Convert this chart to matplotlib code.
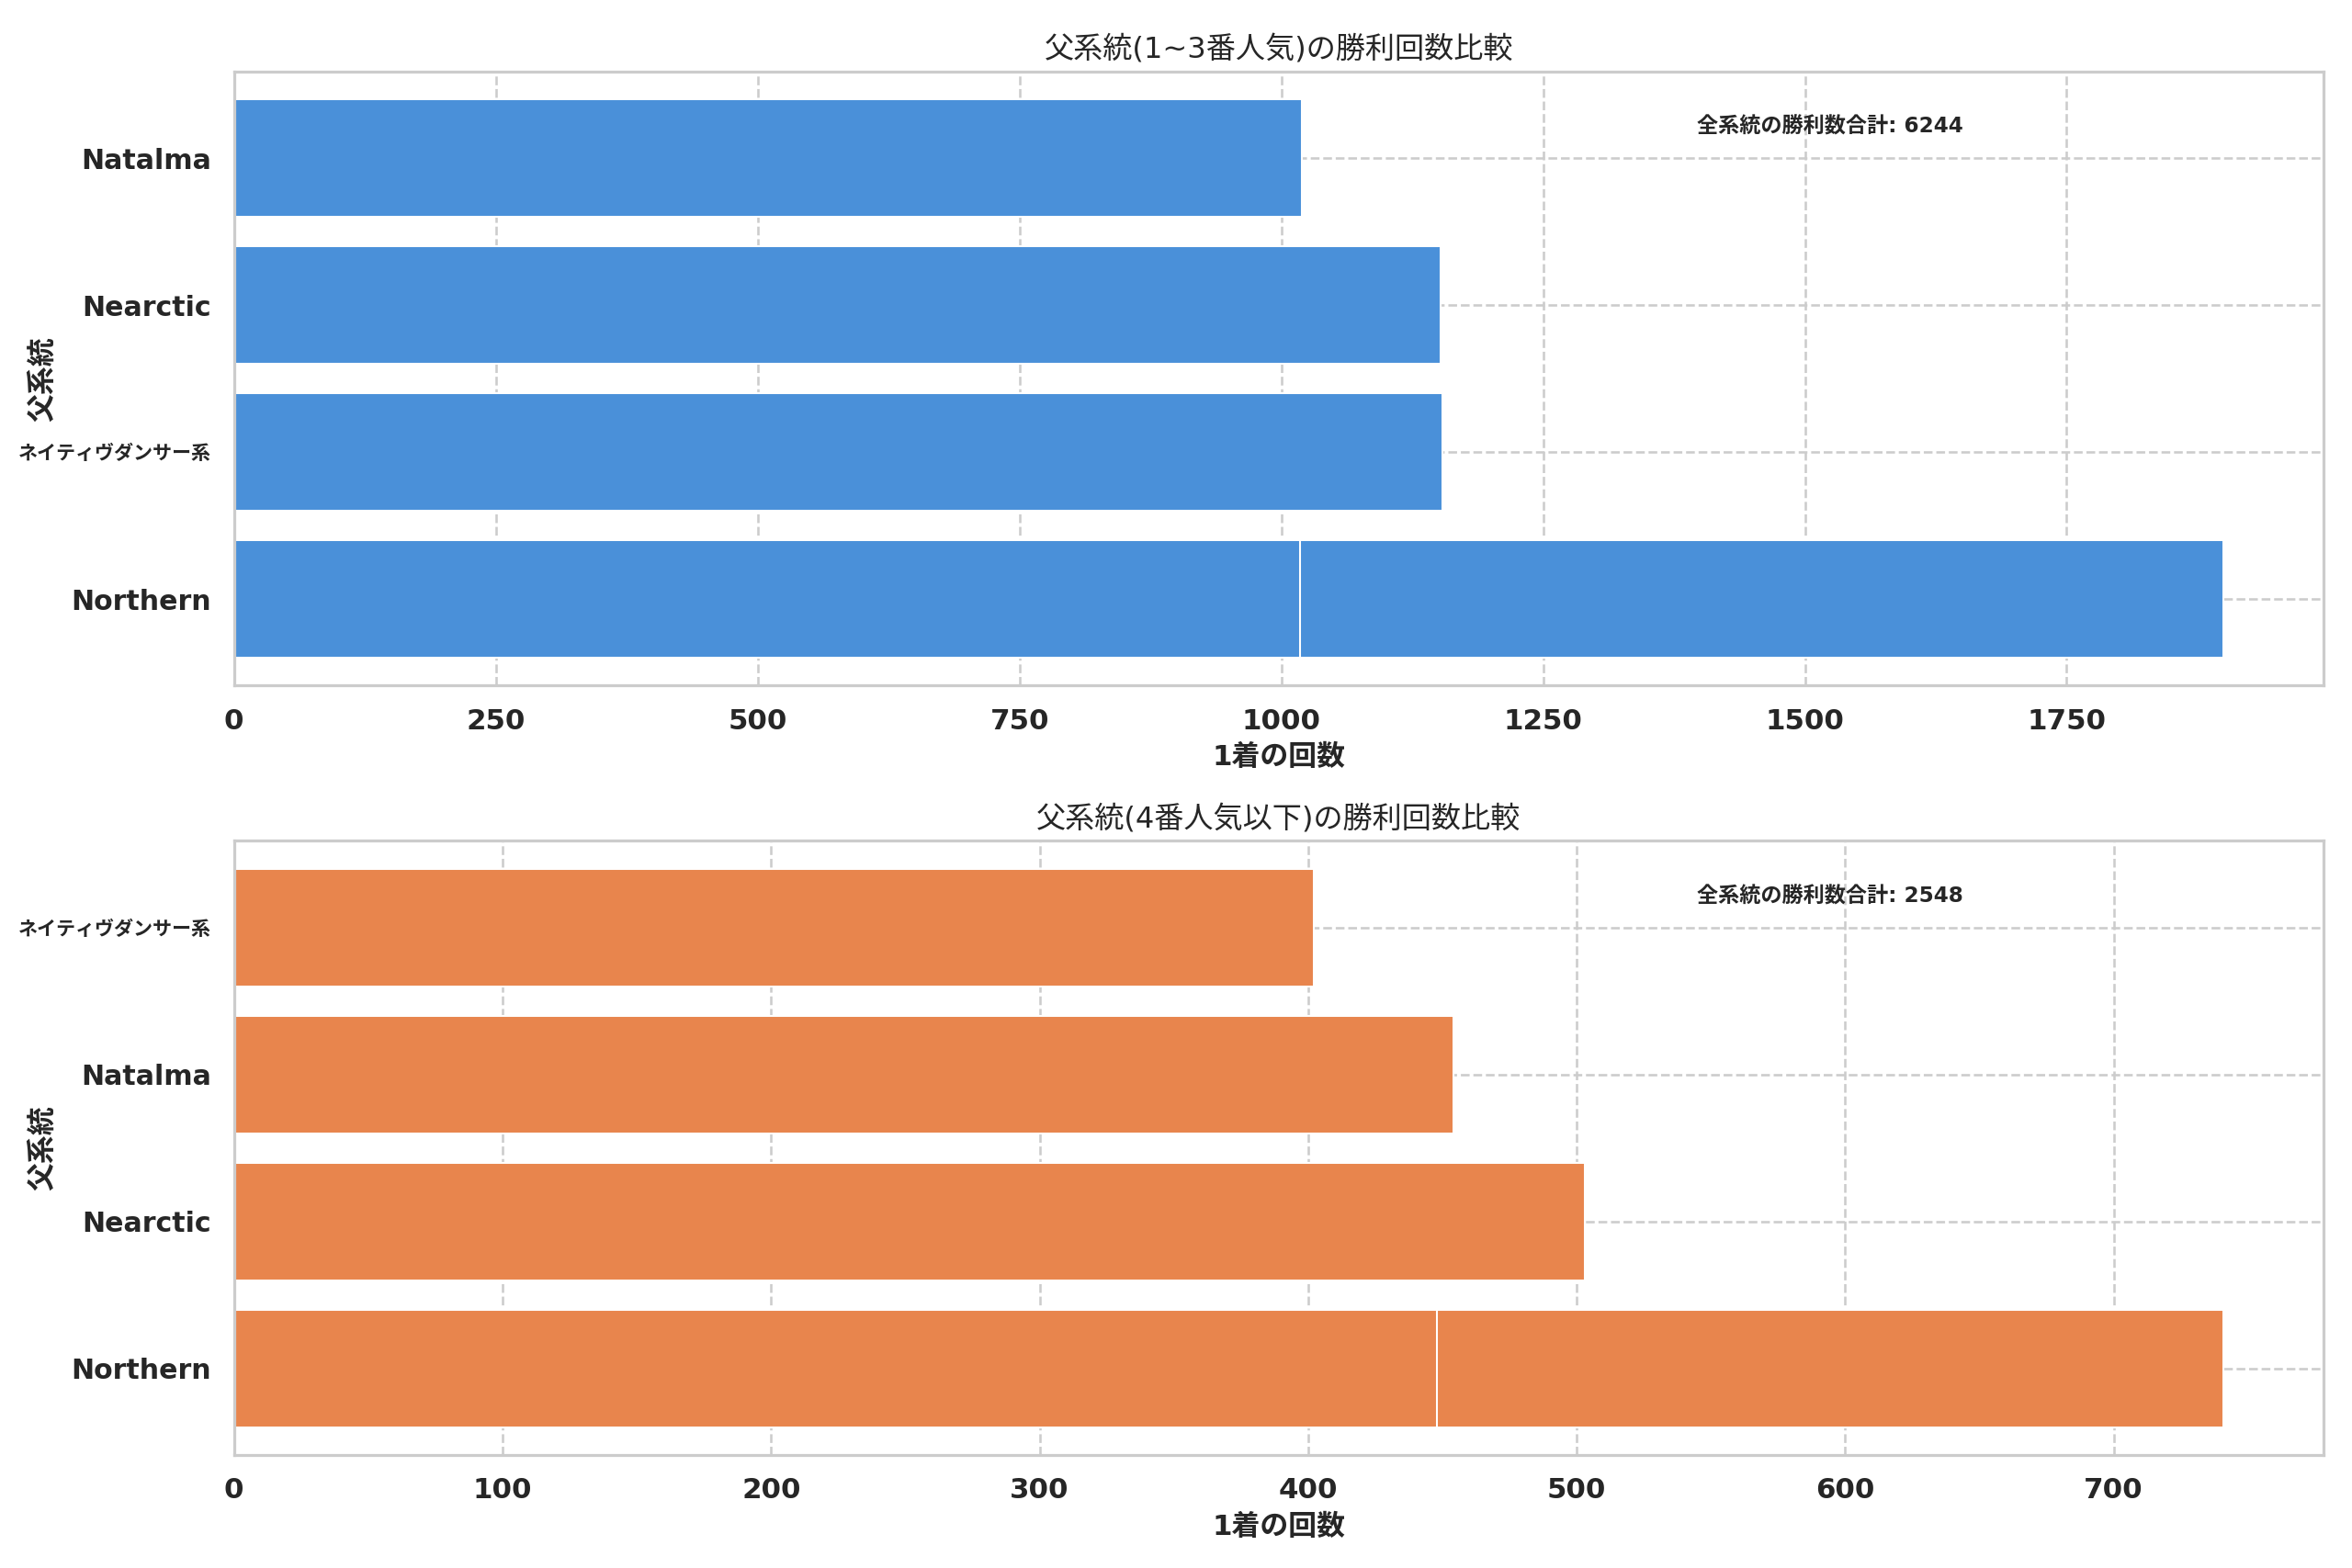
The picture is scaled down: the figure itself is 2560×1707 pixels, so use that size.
import matplotlib
matplotlib.use('Agg')
import matplotlib.pyplot as plt
import seaborn as sns

sns.set_theme(style='whitegrid')
# Japanese glyphs come from Noto Sans CJK JP, Latin text stays in DejaVu Sans
plt.rcParams['font.family'] = ['DejaVu Sans', 'Noto Sans CJK JP']

# 1~3番人気: 系統ごとの1着回数 (降順, Northern は2回出てくる)
names_top = ['Northern', 'ネイティヴダンサー系', 'Nearctic', 'Natalma', 'Northern']
wins_top = [1900, 1154, 1152, 1020, 1018]
total_top = 6244

# 4番人気以下
names_bottom = ['Northern', 'Nearctic', 'Natalma', 'Northern', 'ネイティヴダンサー系']
wins_bottom = [741, 503, 454, 448, 402]
total_bottom = 2548

titles = ['父系統(1~3番人気)の勝利回数比較', '父系統(4番人気以下)の勝利回数比較']
colors = ['#4a90d9', '#e8854d']

fig, axes = plt.subplots(2, 1, figsize=(2560 / 185, 1707 / 185), dpi=185)
fig.subplots_adjust(left=0.0995, right=0.9878, top=0.9543, bottom=0.0721,
                    hspace=0.2528)

for ax, names, wins, total, title, color in zip(
        axes, [names_top, names_bottom], [wins_top, wins_bottom],
        [total_top, total_bottom], titles, colors):
    ax.barh(names, wins, color=color, edgecolor='white', linewidth=0.8)
    ax.set_title(title, fontsize=12.5)
    ax.set_xlabel('1着の回数', fontsize=12, fontweight='bold')
    ax.set_ylabel('父系統', fontsize=12, fontweight='bold')
    ax.yaxis.set_label_coords(-0.0852, 0.5)
    ax.grid(True, linestyle='--', color='#cccccc')
    ax.text(0.7, 0.9, f'全系統の勝利数合計: {total}', transform=ax.transAxes,
            fontsize=9, fontweight='bold')
    for lab in ax.get_xticklabels():
        lab.set_fontweight('bold')
        lab.set_fontsize(12)
    for lab in ax.get_yticklabels():
        lab.set_fontweight('bold')
        lab.set_fontsize(11.7)
        if not lab.get_text().isascii():
            lab.set_fontsize(8.2)

fig.savefig('out.png', dpi=185)
